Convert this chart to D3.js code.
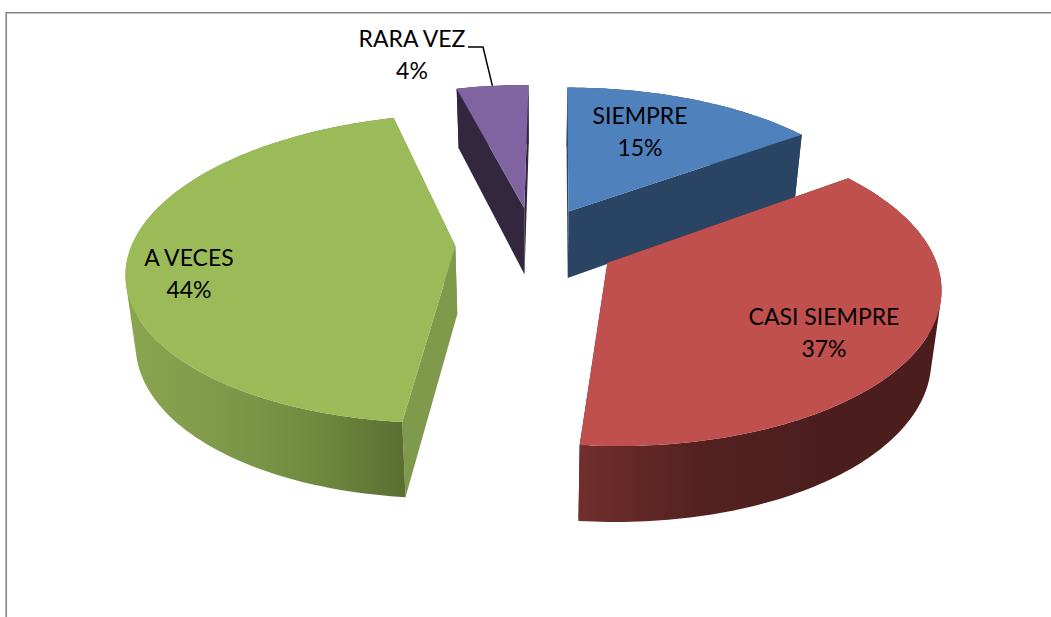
<!DOCTYPE html>
<html lang="es">
<head>
  <meta charset="UTF-8">
  <title>Pie 3D</title>
  <script src="https://d3js.org/d3.v7.min.js"></script>
</head>
<body style="background-color: white; margin: 0; padding: 0;">
  <svg id="chart" width="1051" height="617" style="display: block;"></svg>
  <script>
    // Data (labels show the rounded percentage)
    const categories = ["SIEMPRE", "CASI SIEMPRE", "A VECES", "RARA VEZ"];
    const values = [15, 36.55, 44.25, 4.2];

    // Colours per slice: top face, side wall, arc wall gradient
    const topColors = ["#4f81bd", "#c0504d", "#9bbb59", "#8064a2"];
    const wallColors = ["#2a4564", "#4b1e1d", "#7f9a4a", "#33273f"];
    const arcStops = [
      ["#2a4564", "#2a4564"],
      ["#712e2c", "#54211f", "#4b1e1d", "#4b1e1d"],
      ["#8aa650", "#7f9a4a", "#708c40", "#5c6f33"],
      ["#33273f", "#33273f"]
    ];

    // Layout
    const width = 1051;
    const height = 617;
    const cx = 533.5, cy = 243;
    const rx = 323, ry = 150.4;
    const perspective = 0.145;
    const skew = 3;
    const explode = [0.242, 0.26, 0.242, 0.242];
    const lineGap = 32;
    const labelPos = [[640, 124], [824, 325], [189, 266], [412, 47]];

    const svg = d3.select("#chart");

    const xScale = d3.scaleLinear().domain([-1, 1]).range([cx - rx, cx + rx]);
    const yScale = d3.scaleLinear().domain([-1, 1]).range([cy - ry, cy + ry]);

    // Flat disc coordinates (u right, v towards viewer) to screen, z = 0 top, 1 bottom
    function project(u, v, z) {
      const w = 1 / (1 - perspective * v);
      const shrink = 1 - 0.025 * z;
      return [xScale(u * w * shrink) - skew * v, yScale(v * w) + z * (68 + 7 * v)];
    }

    const pie = d3.pie().sort(null).value(d => d);
    const arcs = pie(values);
    const pct = d3.format(".0%");
    const total = d3.sum(values);
    const path = d3.line();
    const defs = svg.append("defs");

    // Frame
    svg.append("path")
      .attr("d", `M6.2,${height}V12.7H${width}`)
      .attr("fill", "none")
      .attr("stroke", "#868686")
      .attr("stroke-width", 1.6);

    function sliceGeometry(d, e) {
      const mid = (d.startAngle + d.endAngle) / 2;
      const ox = e * Math.sin(mid);
      const oy = -e * Math.cos(mid);
      const n = Math.ceil((d.endAngle - d.startAngle) / 0.02);
      const rim = d3.range(n + 1).map(i => {
        const a = d.startAngle + (d.endAngle - d.startAngle) * i / n;
        return [ox + Math.sin(a), oy - Math.cos(a)];
      });
      return { ox, oy, rim, mid };
    }

    // Draw back to front so the red slice sits over the blue wall
    const order = [3, 0, 2, 1];
    order.forEach(i => {
      const g = sliceGeometry(arcs[i], explode[i]);
      const slice = svg.append("g").attr("class", "slice");
      const top = g.rim.map(p => project(p[0], p[1], 0));
      const bottom = g.rim.map(p => project(p[0], p[1], 1));
      const front = g.oy > 0;

      const gradId = "wall" + i;
      const ext = d3.extent(top, p => p[0]);
      const grad = defs.append("linearGradient")
        .attr("id", gradId)
        .attr("gradientUnits", "userSpaceOnUse")
        .attr("x1", ext[0]).attr("x2", ext[1])
        .attr("y1", 0).attr("y2", 0);
      arcStops[i].forEach((c, k) => {
        grad.append("stop")
          .attr("offset", k / (arcStops[i].length - 1))
          .attr("stop-color", c);
      });

      // Outer wall as a strip of quads, all wound the same way, so the fold at
      // the far left and right of the rim is filled too
      const drawArcWall = () => {
        const quads = d3.range(top.length - 1).map(k => {
          const q = [top[k], top[k + 1], bottom[k + 1], bottom[k]];
          if (d3.polygonArea(q) < 0) q.reverse();
          return path(q) + "Z";
        });
        slice.append("path")
          .attr("d", quads.join(""))
          .attr("fill", `url(#${gradId})`);
      };

      // Back slices show the radial wall over the arc wall, front ones the other way
      if (!front) drawArcWall();

      const apexTop = project(g.ox, g.oy, 0);
      const apexBottom = project(g.ox, g.oy, 1);
      const faces = [
        [apexTop, top[0], bottom[0], apexBottom],
        [apexTop, top[top.length - 1], bottom[bottom.length - 1], apexBottom]
      ];
      faces.sort((a, b) => d3.mean(a, p => p[1]) - d3.mean(b, p => p[1]));
      faces.forEach(f => {
        slice.append("path")
          .attr("d", path(f) + "Z")
          .attr("fill", wallColors[i]);
      });

      if (front) drawArcWall();

      // Top face
      slice.append("path")
        .attr("d", path([apexTop].concat(top)) + "Z")
        .attr("fill", topColors[i]);
    });

    // Labels
    categories.forEach((name, i) => {
      const t = svg.append("text")
        .attr("text-anchor", "middle")
        .attr("font-family", "Lato, 'Noto Sans', sans-serif")
        .attr("font-size", 23)
        .attr("fill", "#000");
      t.append("tspan").attr("x", labelPos[i][0]).attr("y", labelPos[i][1]).text(name);
      t.append("tspan").attr("x", labelPos[i][0]).attr("y", labelPos[i][1] + lineGap)
        .text(pct(values[i] / total));
    });

    // Leader line for the small slice
    const small = sliceGeometry(arcs[3], explode[3]);
    const end = project(small.ox + Math.sin(small.mid), small.oy - Math.cos(small.mid), 0);
    svg.append("path")
      .attr("d", path([[468, 47], [483, 47], end]))
      .attr("fill", "none")
      .attr("stroke", "#000")
      .attr("stroke-width", 1.5);
  </script>
</body>
</html>
